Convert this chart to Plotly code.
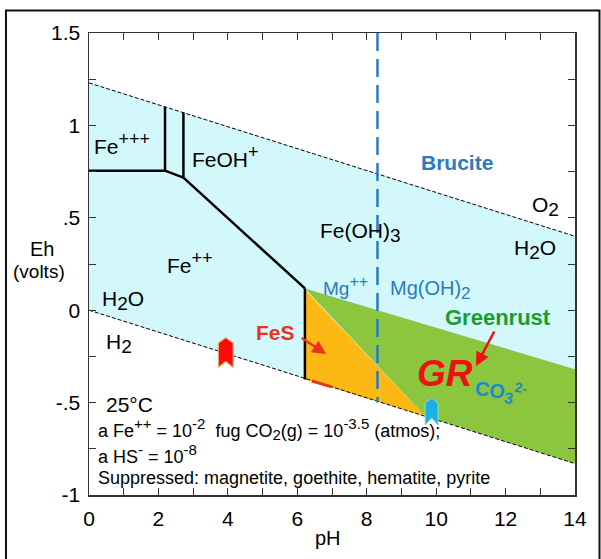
import plotly.graph_objects as go

# ---------------- data ----------------
x_tick_vals = [0, 2, 4, 6, 8, 10, 12, 14]
y_tick_vals = [1.5, 1.0, 0.5, 0.0, -0.5, -1.0]
y_tick_text = ["1.5", "1", ".5", "0", "-.5", "-1"]

water_ph = [0, 14]
o2_h2o_eh = [1.23, 0.40]   # upper stability limit of water
h2o_h2_eh = [0.0, -0.83]   # lower stability limit of water

# Fe boundaries (black lines)
fe3_fe2_ph = [0, 2.19]
fe3_fe2_eh = [0.755, 0.755]
fe3_feoh_ph = [2.19, 2.19]
fe3_feoh_eh = [1.10, 0.755]
feoh_fe2_ph = [2.19, 2.72]
feoh_fe2_eh = [0.755, 0.717]
feoh_feoh3_ph = [2.72, 2.72]
feoh_feoh3_eh = [1.07, 0.717]
fe2_feoh3_ph = [2.72, 6.22]
fe2_feoh3_eh = [0.717, 0.118]
fe2_fes_ph = [6.22, 6.22]
fe2_fes_eh = [0.118, -0.375]

# Greenrust field (green) and FeS field (orange)
greenrust_ph = [6.22, 14, 14, 9.68, 6.22]
greenrust_eh = [0.118, -0.32, -0.83, -0.573, 0.118]
fes_ph = [6.22, 6.22, 9.68, 6.22]
fes_eh = [0.11, -0.375, -0.573, 0.11]

# brucite boundary (Mg++ / Mg(OH)2)
brucite_ph = [8.31, 8.31]
brucite_eh = [1.5, -0.50]

# small red streak along the lower water line
streak_ph = [6.42, 6.99]
streak_eh = [-0.383, -0.415]

# marker flags (pH, Eh)
red_flag = (3.94, -0.242)
blue_flag = (9.87, -0.548)

# ---------------- figure ----------------
fig = go.Figure()

fig.add_trace(go.Scatter(
    x=water_ph + water_ph[::-1],
    y=o2_h2o_eh + h2o_h2_eh[::-1],
    fill="toself", fillcolor="#d2f8fb", line=dict(width=0),
    mode="lines", hoverinfo="skip", showlegend=False))

fig.add_trace(go.Scatter(
    x=greenrust_ph, y=greenrust_eh, fill="toself", fillcolor="#8cc63f",
    line=dict(width=0), mode="lines", hoverinfo="skip", showlegend=False))

fig.add_trace(go.Scatter(
    x=fes_ph, y=fes_eh, fill="toself", fillcolor="#fdb913",
    line=dict(width=0), mode="lines", hoverinfo="skip", showlegend=False))

for bx, by in [(fe3_fe2_ph, fe3_fe2_eh), (fe3_feoh_ph, fe3_feoh_eh),
               (feoh_fe2_ph, feoh_fe2_eh), (feoh_feoh3_ph, feoh_feoh3_eh),
               (fe2_feoh3_ph, fe2_feoh3_eh), (fe2_fes_ph, fe2_fes_eh)]:
    fig.add_trace(go.Scatter(x=bx, y=by, mode="lines",
                             line=dict(color="black", width=2.5),
                             hoverinfo="skip", showlegend=False))

for wy in (o2_h2o_eh, h2o_h2_eh):
    fig.add_trace(go.Scatter(x=water_ph, y=wy, mode="lines",
                             line=dict(color="black", width=1, dash="4px,2px"),
                             hoverinfo="skip", showlegend=False))

fig.add_trace(go.Scatter(x=streak_ph, y=streak_eh, mode="lines",
                         line=dict(color="#e8331a", width=3),
                         hoverinfo="skip", showlegend=False))

fig.add_trace(go.Scatter(x=brucite_ph, y=brucite_eh, mode="lines",
                         line=dict(color="#2b7bbd", width=2.5, dash="18px,8px"),
                         hoverinfo="skip", showlegend=False))

def flag_path(hw, top, shoulder, bottom, notch):
    return (f"M 0 {top} L {hw} {shoulder} L {hw} {bottom} L 0 {notch} "
            f"L {-hw} {bottom} L {-hw} {shoulder} Z")

shapes = [
    dict(type="path", xref="x", yref="y", xsizemode="pixel", ysizemode="pixel",
         xanchor=red_flag[0], yanchor=red_flag[1],
         path=flag_path(7.5, 17.3, 12, -12.7, -6.7),
         fillcolor="#ff0a0a", line=dict(color="#d8c27a", width=1.2)),
    dict(type="path", xref="x", yref="y", xsizemode="pixel", ysizemode="pixel",
         xanchor=blue_flag[0], yanchor=blue_flag[1],
         path=flag_path(6.5, 13.5, 8.5, -13.5, -6.5),
         fillcolor="#1ab0e8", line=dict(color="#9ed8c0", width=1)),
    dict(type="rect", xref="paper", yref="paper",
         x0=-0.1708, x1=1.0504, y0=-0.2, y1=1.0487,
         line=dict(color="#111111", width=2), fillcolor="rgba(0,0,0,0)",
         layer="above"),
]

FONT = "Liberation Sans, Arial, Helvetica, sans-serif"
BLUE = "#2b7bbd"


def sup(t, size):
    return f"<sup><span style='font-size:{size}px'>{t}</span></sup>"


def sub(t, size):
    return f"<sub><span style='font-size:{size}px'>{t}</span></sub>"


def lab(x, y, text, size=21, color="black", xanchor="left", bold=False,
        italic=False, ref="data", angle=0):
    t = text
    if bold:
        t = f"<b>{t}</b>"
    if italic:
        t = f"<i>{t}</i>"
    return dict(x=x, y=y, text=t, showarrow=False, xanchor=xanchor,
                yanchor="middle", textangle=angle,
                xref="x" if ref == "data" else "paper",
                yref="y" if ref == "data" else "paper",
                font=dict(family=FONT, size=size, color=color))


annotations = [
    lab(0.09, 0.90, "Fe" + sup("+++", 18)),
    lab(2.91, 0.83, "FeOH" + sup("+", 18)),
    lab(2.19, 0.26, "Fe" + sup("++", 18)),
    lab(6.6, 0.42, "Fe(OH)" + sub("3", 19)),
    lab(10.6, 0.797, "Brucite", size=21, color=BLUE, xanchor="center", bold=True),
    lab(12.7, 0.56, "O" + sub("2", 19)),
    lab(12.19, 0.33, "H" + sub("2", 19) + "O"),
    lab(6.68, 0.13, "Mg" + sup("++", 16), size=19, color=BLUE),
    lab(8.61, 0.11, "Mg(OH)" + sub("2", 17), size=20, color=BLUE),
    lab(0.32, 0.05, "H" + sub("2", 19) + "O"),
    lab(0.43, -0.18, "H" + sub("2", 19)),
    lab(0.43, -0.508, "25°C", size=21),
    lab(0.2, -0.645, "a Fe" + sup("++", 15) + " = 10" + sup("-2", 15)
        + "  fug CO" + sub("2", 15) + "(g) = 10" + sup("-3.5", 15)
        + " (atmos);", size=18),
    lab(0.2, -0.78, "a HS" + sup("-", 15) + " = 10" + sup("-8", 15), size=18),
    lab(0.2, -0.908, "Suppressed: magnetite, goethite, hematite, pyrite", size=18),
    lab(5.36, -0.118, "FeS", size=21, color="#e8321e", xanchor="center", bold=True),
    lab(11.78, -0.042, "Greenrust", size=22, color="#1a9c2b", xanchor="center", bold=True),
    lab(10.25, -0.345, "GR", size=37, color="#ee1111", xanchor="center", bold=True, italic=True),
    lab(11.0, -0.44, "CO" + sub("3", 16) + sup("2-", 14), size=20, color="#1a8cc8",
        bold=True, angle=8),
    lab(-0.0967, 0.532, "Eh", size=20, xanchor="center", ref="paper"),
    lab(-0.103, 0.483, "(volts)", size=19, xanchor="center", ref="paper"),
    lab(0.492, -0.093, "pH", size=20, xanchor="center", ref="paper"),
    dict(x=6.83, y=-0.237, ax=-26, ay=-17, xref="x", yref="y", text="",
         showarrow=True, arrowhead=2, arrowsize=1.1, arrowwidth=2.5,
         arrowcolor="#e8321e"),
    dict(x=11.15, y=-0.302, ax=19, ay=-36, xref="x", yref="y", text="",
         showarrow=True, arrowhead=2, arrowsize=1.1, arrowwidth=2.5,
         arrowcolor="#ee1111"),
]

axis_common = dict(showgrid=False, zeroline=False, showline=True,
                   linecolor="#333333", linewidth=1.5, mirror="ticks",
                   ticks="inside", ticklen=7, tickcolor="#333333",
                   tickfont=dict(family=FONT, size=21, color="black"))

fig.update_layout(
    width=601, height=559,
    margin=dict(l=89, r=26, t=33, b=64),
    paper_bgcolor="white", plot_bgcolor="white",
    showlegend=False,
    xaxis=dict(range=[0, 14], tickmode="array", tickvals=x_tick_vals,
               minor=dict(tickmode="linear", tick0=0, dtick=1, ticks="inside",
                          ticklen=7, tickcolor="#333333"),
               ticklabelstandoff=4,
               **axis_common),
    yaxis=dict(range=[-1, 1.5], tickmode="array", tickvals=y_tick_vals,
               ticktext=y_tick_text,
               minor=dict(tickmode="linear", tick0=0, dtick=0.25, ticks="inside",
                          ticklen=7, tickcolor="#333333"),
               ticklabelstandoff=3,
               **axis_common),
    shapes=shapes,
    annotations=annotations,
)

fig.write_html("out.html",
               config={"displayModeBar": False, "staticPlot": True},
               post_script="document.body.style.margin='0';"
                           "document.body.style.overflow='hidden';")
